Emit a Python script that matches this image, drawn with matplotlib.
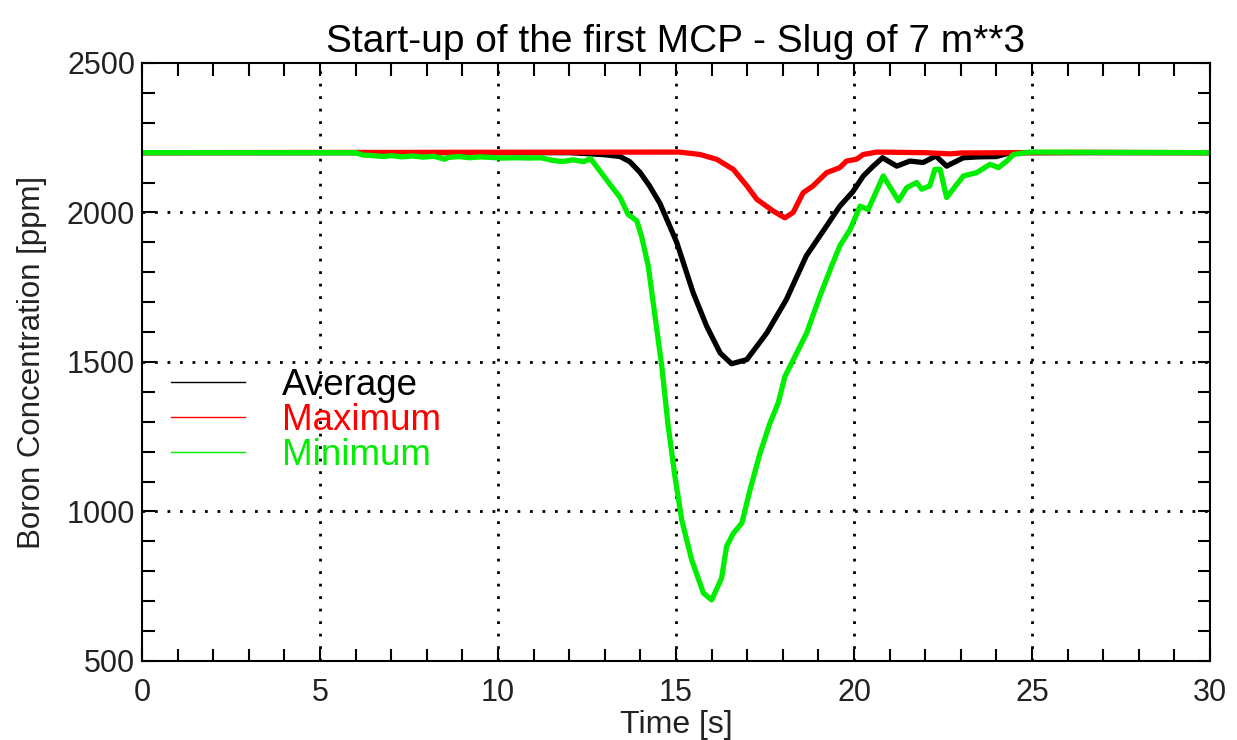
import numpy as np
import matplotlib.pyplot as plt
from matplotlib.lines import Line2D
from matplotlib.ticker import MultipleLocator

plt.rcParams['font.family'] = ['Liberation Sans', 'DejaVu Sans']

# time [s] and boron concentration [ppm]
t_avg = [0, 12.0, 12.6, 13.0, 13.43, 13.7, 13.99, 14.25, 14.55, 15.02, 15.48, 15.86,
         16.24, 16.56, 16.99, 17.55, 18.1, 18.66, 19.23, 19.6, 19.97, 20.26, 20.54,
         20.8, 21.2, 21.57, 21.94, 22.3, 22.6, 23.07, 23.5, 24.0, 24.4, 30]
c_avg = [2200, 2200, 2196, 2193, 2187, 2170, 2134, 2090, 2030, 1900, 1732, 1620,
         1530, 1494, 1508, 1597, 1709, 1855, 1955, 2021, 2070, 2122, 2155,
         2183, 2155, 2172, 2167, 2189, 2155, 2183, 2186, 2187, 2200, 2200]

t_max = [0, 15.1, 15.67, 16.14, 16.61, 16.99, 17.27, 17.74, 18.06, 18.29, 18.57,
         18.85, 19.23, 19.6, 19.79, 20.07, 20.26, 20.64, 22.0, 22.7, 23.0, 26.4, 30]
c_max = [2200, 2202, 2194, 2178, 2144, 2089, 2044, 2004, 1982, 2000, 2066,
         2089, 2133, 2150, 2172, 2178, 2194, 2202, 2200, 2196, 2199, 2201, 2200]

t_min = [0, 6.0, 6.2, 6.5, 6.8, 7.0, 7.3, 7.6, 7.9, 8.2, 8.5, 8.6, 8.9, 9.2, 9.5,
         9.8, 10.1, 10.5, 10.9, 11.2, 11.5, 11.8, 12.1, 12.4, 12.6, 12.9, 13.15,
         13.43, 13.65, 13.9, 14.03, 14.22, 14.41, 14.6, 14.78, 14.97, 15.16, 15.44,
         15.77, 16.0, 16.28, 16.42, 16.61, 16.85, 17.08, 17.36, 17.64, 17.87, 18.06,
         18.39, 18.67, 19.04, 19.37, 19.6, 19.89, 20.17, 20.4, 20.82, 21.25, 21.48,
         21.76, 21.9, 22.13, 22.27, 22.42, 22.6, 23.07, 23.44, 23.82, 24.06, 24.29,
         24.48, 24.94, 30]
c_min = [2200, 2200, 2192, 2190, 2187, 2190, 2186, 2189, 2185, 2188, 2178, 2184,
         2187, 2183, 2186, 2184, 2182, 2183, 2182, 2183, 2175, 2170, 2176, 2170,
         2180, 2133, 2093, 2050, 1994, 1972, 1921, 1821, 1653, 1486, 1285, 1117,
         972, 838, 727, 704, 777, 883, 927, 961, 1073, 1195, 1296, 1363, 1452,
         1530, 1597, 1720, 1821, 1888, 1943, 2021, 2010, 2122, 2039, 2083, 2100,
         2078, 2089, 2144, 2144, 2050, 2122, 2133, 2161, 2150, 2172, 2194, 2202, 2200]

names = ['Average', 'Maximum', 'Minimum']
cols = ['black', '#ff0000', '#00ee00']

fig = plt.figure(figsize=(12.37, 7.40), dpi=100)
ax = fig.add_axes([0.1148, 0.1068, 0.8634, 0.8081])

ax.plot(t_avg, c_avg, color=cols[0], lw=3.8)
ax.plot(t_max, c_max, color=cols[1], lw=3.8)
ax.plot(t_min, c_min, color=cols[2], lw=3.8)

ax.set_xlim(0, 30)
ax.set_ylim(500, 2500)
ax.xaxis.set_major_locator(MultipleLocator(5))
ax.xaxis.set_minor_locator(MultipleLocator(1))
ax.yaxis.set_major_locator(MultipleLocator(500))
ax.yaxis.set_minor_locator(MultipleLocator(100))
ax.tick_params(which='both', direction='in', top=True, right=True, width=1.5,
               length=9, labelsize=22, pad=12, labelcolor='#222222')
ax.tick_params(axis='y', pad=5)
for s in ax.spines.values():
    s.set_linewidth(1.5)

for v in [5, 10, 15, 20, 25]:
    ax.axvline(v, color='black', ls=(0, (1, 3.5)), lw=2, zorder=0)
for v in [1000, 1500, 2000]:
    ax.axhline(v, color='black', ls=(0, (1, 3.5)), lw=2, zorder=0)

ax.set_title('Start-up of the first MCP - Slug of 7 m**3', fontsize=28, pad=8)
ax.set_xlabel('Time [s]', fontsize=23, labelpad=2, color='#222222')
ax.set_ylabel('Boron Concentration [ppm]', fontsize=22.5, labelpad=14, color='#222222')

handles = [Line2D([], [], color=c, lw=1) for c in cols]
leg = ax.legend(handles, names, loc='upper left', bbox_to_anchor=(0.010, 0.521),
                frameon=False, fontsize=26.5, handlelength=2.0, handletextpad=1.0,
                labelspacing=0.0, borderpad=0)
for txt, c in zip(leg.get_texts(), cols):
    txt.set_color(c)

fig.savefig('out.png', dpi=100)
